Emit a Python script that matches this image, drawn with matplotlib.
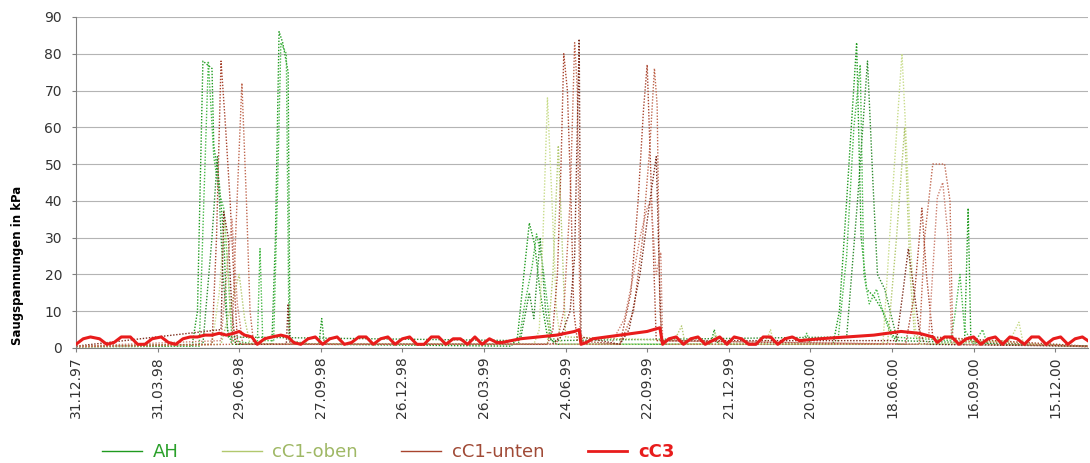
import matplotlib
matplotlib.use('Agg')
import matplotlib.pyplot as plt
import matplotlib.dates as mdates
from matplotlib.lines import Line2D
import pandas as pd

plt.rcParams['font.family'] = ['DejaVu Sans']

START = pd.Timestamp('1997-12-31')
END_DAY = 1116

# alle Zeiten in Tagen seit 31.12.97, Werte in kPa
ah_1_days = [0, 128, 134, 140, 150, 152, 158, 163, 167, 172, 216, 220, 224, 228, 234, 236, 240, 268, 271, 274,
             480, 487, 494, 500, 506, 512, 520, 530, 700, 704, 708, 835, 842, 850, 861, 866, 872, 880, 890, 900, 906,
             980, 984, 987, 1000, 1116]
ah_1_vals = [0.5, 0.5, 10, 78, 76, 55, 45, 30, 5, 1, 1, 30, 86, 83, 75, 3, 1, 1, 8, 1,
             0.5, 3, 20, 34, 28, 15, 3, 1, 1, 5, 1, 1, 10, 40, 83, 30, 16, 14, 10, 4, 1,
             1, 38, 2, 1, 0.5]

ah_2_days = [0, 136, 141, 146, 152, 158, 163, 168, 172, 200, 203, 206, 218, 222, 226, 232, 235, 260,
             488, 495, 503, 508, 514, 520, 524, 530, 800, 806, 810, 840, 850, 858, 865, 869, 875, 883, 892, 900,
             965, 970, 975, 980, 990, 1000, 1005, 1116]
ah_2_vals = [0.3, 0.5, 40, 78, 52, 42, 38, 20, 2, 1, 27, 2, 2, 40, 83, 80, 2, 1,
             1, 12, 22, 31, 24, 12, 4, 1, 1, 4, 1, 1, 25, 60, 77, 20, 12, 16, 8, 3,
             2, 10, 20, 5, 1, 5, 1, 0.5]

ah_3_days = [0, 140, 150, 156, 162, 168, 490, 500, 505, 512, 518, 524, 850, 862, 873, 879, 884, 892, 900, 906, 1116]
ah_3_vals = [0.5, 1, 30, 52, 20, 3, 2, 15, 8, 30, 10, 2, 3, 40, 78, 45, 20, 16, 8, 2, 0.5]

oben_1_days = [0, 150, 158, 164, 170, 176, 505, 511, 515, 520, 525, 530, 535, 700, 705, 710, 760, 766, 770,
               890, 900, 911, 916, 920, 926, 932, 1030, 1040, 1045, 1116]
oben_1_vals = [0.5, 1, 15, 35, 10, 1, 1, 5, 30, 68, 40, 10, 1, 1, 4, 1, 1, 5, 1,
               1, 40, 80, 55, 30, 5, 1, 2, 7, 1, 0.5]

oben_2_days = [0, 160, 180, 186, 192, 520, 526, 532, 536, 540, 660, 668, 672, 895, 905, 914, 920, 925, 1116]
oben_2_vals = [0.3, 1, 20, 8, 1, 1, 20, 55, 30, 3, 2, 6, 1, 1, 30, 60, 20, 3, 0.3]

unten_1_days = [0, 150, 155, 160, 165, 170, 174, 178, 182, 520, 526, 531, 535, 538, 542, 546, 549, 553,
                600, 612, 620, 626, 630, 635, 640, 915, 925, 933, 938, 945, 1116]
unten_1_vals = [0.5, 1, 30, 78, 60, 40, 20, 2, 1, 1, 5, 20, 50, 80, 70, 40, 10, 2,
                1, 15, 40, 65, 77, 40, 2, 1, 15, 38, 20, 3, 0.5]

unten_2_days = [0, 172, 176, 183, 188, 192, 196, 530, 538, 545, 550, 553, 556, 560,
                600, 615, 625, 633, 638, 641, 644, 647, 930, 936, 945, 958, 964, 967, 1116]
unten_2_vals = [0.3, 1, 30, 72, 40, 10, 1, 1, 10, 40, 83, 70, 5, 1,
                1, 10, 30, 55, 76, 66, 10, 1, 1, 30, 50, 50, 40, 2, 0.3]

unten_3_days = [0, 160, 163, 168, 172, 176, 232, 234, 236, 525, 535, 545, 550, 555, 557,
                600, 610, 622, 633, 640, 644, 646, 905, 912, 918, 923, 930, 936, 1116]
unten_3_vals = [0.5, 5, 37, 30, 10, 1, 1, 12, 1, 1, 3, 10, 25, 84, 3,
                1, 5, 20, 40, 52, 15, 2, 2, 15, 27, 18, 5, 1, 0.5]

unten_4_days = [0, 160, 166, 172, 178, 184, 590, 605, 615, 622, 630, 634, 640, 645, 647,
                940, 950, 956, 962, 966, 1116]
unten_4_vals = [0.5, 2, 20, 35, 12, 1, 1, 8, 20, 30, 38, 40, 20, 26, 2,
                1, 41, 45, 30, 1, 0.5]

cc3_days = [0, 8, 16, 26, 34, 42, 50, 60, 68, 76, 84, 94, 102, 110, 118, 126, 134, 142, 150, 158,
            166, 174, 180, 186, 194, 200, 208, 216, 226, 234, 240, 248, 256, 264, 272, 280, 288, 296,
            304, 312, 320, 328, 336, 344, 352, 360, 368, 376, 384, 392, 400, 408, 416, 424, 432, 440,
            448, 456, 464, 470, 490, 510, 530, 550, 555, 557, 563, 570, 600, 630, 644, 647, 654, 662,
            670, 678, 686, 694, 702, 710, 718, 726, 734, 742, 750, 758, 766, 774, 782, 790, 798, 820,
            850, 880, 910, 930, 945, 950, 958, 966, 974, 982, 990, 998, 1006, 1014, 1022, 1030, 1038,
            1046, 1054, 1062, 1070, 1078, 1086, 1094, 1102, 1110, 1116]
cc3_vals = [1, 2.5, 3, 2.5, 1, 1.5, 3, 3, 1, 1, 2.5, 3, 1.5, 1, 2.5, 3, 3, 3.5, 3.5, 4,
            3.5, 4, 4.5, 3.5, 3, 1, 2.5, 3, 3.5, 3, 1.5, 1, 2.5, 3, 1, 2.5, 3, 1,
            1.5, 3, 3, 1, 2.5, 3, 1, 2.5, 3, 1, 1, 3, 3, 1, 2.5, 2.5, 1, 3,
            1, 2.5, 1.5, 1.5, 2.5, 3, 3.5, 4.5, 5, 1, 1.5, 2.5, 3.5, 4.5, 5.5, 1, 2.5, 3,
            1, 2.5, 3, 1, 2, 3, 1, 3, 2.5, 1, 1, 3, 3, 1, 2.5, 3, 2, 2.5,
            3, 3.5, 4.5, 4, 3, 1.5, 3, 3, 1, 2.5, 3, 1, 2.5, 3, 1, 3, 2.5,
            1, 3, 3, 1, 2.5, 3, 1, 2.5, 3, 2]

tick_days = [0, 90, 180, 270, 360, 450, 540, 630, 720, 810, 900, 990, 1080]

groups = {
    'AH': ([(ah_1_days, ah_1_vals), (ah_2_days, ah_2_vals), (ah_3_days, ah_3_vals)],
           ['#1f9a1f', '#45b845', '#2e8b2e'], '#2aa02a'),
    'cC1-oben': ([(oben_1_days, oben_1_vals), (oben_2_days, oben_2_vals)],
                 ['#c8dc8a', '#b2c86e'], '#9fb865'),
    'cC1-unten': ([(unten_1_days, unten_1_vals), (unten_2_days, unten_2_vals),
                   (unten_3_days, unten_3_vals), (unten_4_days, unten_4_vals)],
                  ['#a8442e', '#c06850', '#7c2c1c', '#cc8070'], '#a04a36'),
}


def to_dates(days):
    return START + pd.to_timedelta(days, unit='D')


fig = plt.figure(figsize=(10.9, 4.63), dpi=100)
ax = fig.add_axes([0.0697, 0.2484, 0.9283, 0.715])

for name, (lines, colors, _) in groups.items():
    for (d, v), c in zip(lines, colors):
        ax.plot(to_dates(d), v, color=c, lw=1.0, ls=(0, (1, 1.2)), zorder=2)

ax.plot(to_dates(cc3_days), cc3_vals, color='#e81c1c', lw=2.2, zorder=3)

ax.set_ylim(0, 90)
ax.set_yticks(range(0, 91, 10))
ax.set_xlim(to_dates([0])[0], to_dates([END_DAY])[0])
ax.set_xticks(to_dates(tick_days))
ax.xaxis.set_major_formatter(mdates.DateFormatter('%d.%m.%y'))
ax.tick_params(axis='x', rotation=90, labelsize=10, length=3, pad=3, color='#808080', labelcolor='#333333')
ax.tick_params(axis='y', labelsize=10, length=3, pad=7, color='#808080', labelcolor='#333333')
ax.yaxis.grid(True, color='#b4b4b4', lw=0.8)
ax.set_axisbelow(True)
for s in ['top', 'right']:
    ax.spines[s].set_visible(False)
for s in ['left', 'bottom']:
    ax.spines[s].set_color('#808080')
    ax.spines[s].set_linewidth(0.8)

ax.set_ylabel('Saugspannungen in kPa', fontsize=8.5, fontweight='bold')
ax.yaxis.set_label_coords(-0.051, 0.25)

handles = [Line2D([], [], color=groups['AH'][1][0], lw=1),
           Line2D([], [], color=groups['cC1-oben'][1][1], lw=1),
           Line2D([], [], color=groups['cC1-unten'][1][0], lw=1),
           Line2D([], [], color='#e81c1c', lw=2)]
labels = ['AH', 'cC1-oben', 'cC1-unten', 'cC3']
leg = fig.legend(handles, labels, loc='center left', bbox_to_anchor=(0.0936, 0.024), ncol=4,
                 frameon=False, fontsize=13, handlelength=2.2, handletextpad=0.6,
                 columnspacing=2.4, borderpad=0, borderaxespad=0)
text_colors = [groups['AH'][2], groups['cC1-oben'][2], groups['cC1-unten'][2], '#e81c1c']
for t, c in zip(leg.get_texts(), text_colors):
    t.set_color(c)
leg.get_texts()[3].set_fontweight('bold')

fig.savefig('out.png', dpi=100)
